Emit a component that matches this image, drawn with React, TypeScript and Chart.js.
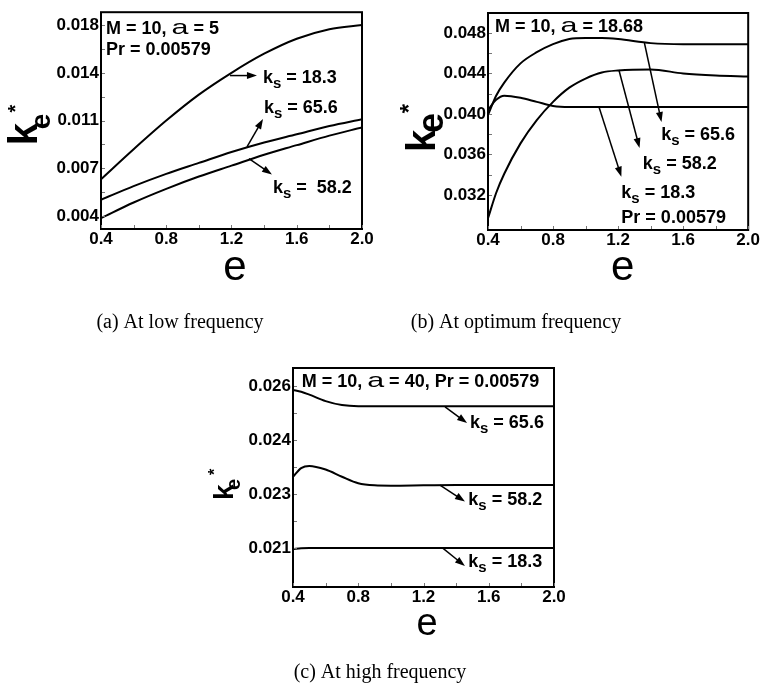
import React, { useEffect, useRef } from "react";
import { Chart, registerables } from "chart.js";

Chart.register(...registerables);

const SANS = "'Liberation Sans', Arial, sans-serif";
const SERIF = "'Liberation Serif', 'Times New Roman', serif";

// ---------- shared x axis ----------
const X_TICKS = [0.4, 0.8, 1.2, 1.6, 2.0];
const X_MINOR = [0.6, 1.0, 1.4, 1.8];

// ---------- (a) low frequency ----------
const E_A = [0.4, 0.6, 0.8, 1.0, 1.2, 1.4, 1.6, 1.8, 2.0];
const A_KS_18_3 = [0.0067, 0.0089, 0.0110, 0.0129, 0.0145, 0.0159, 0.0170, 0.0177, 0.0180];
const A_KS_65_6 = [0.0052, 0.0062, 0.0071, 0.0079, 0.0087, 0.0094, 0.0100, 0.0106, 0.0111];
const A_KS_58_2 = [0.00385, 0.0050, 0.0060, 0.0069, 0.0077, 0.0085, 0.0092, 0.0099, 0.0105];
const A_Y_TICKS = [0.004, 0.0075, 0.011, 0.0145, 0.018];
const A_Y_LABELS = ["0.004", "0.007", "0.011", "0.014", "0.018"];

// ---------- (b) optimum frequency ----------
const E_B = [0.4, 0.45, 0.5, 0.6, 0.7, 0.8, 0.9, 1.0, 1.1, 1.2, 1.4, 1.6, 1.8, 2.0];
const B_KS_65_6 = [0.0399, 0.0418, 0.0431, 0.0450, 0.0461, 0.0469, 0.0474, 0.0475, 0.0475, 0.0474, 0.0470, 0.0469, 0.0469, 0.0469];
const B_KS_58_2 = [0.0297, 0.0322, 0.0341, 0.0371, 0.0394, 0.0412, 0.0426, 0.0435, 0.0441, 0.0443, 0.0444, 0.0440, 0.0438, 0.0437];
const B_KS_18_3 = [0.0404, 0.0414, 0.0418, 0.0416, 0.0412, 0.0408, 0.0407, 0.0407, 0.0407, 0.0407, 0.0407, 0.0407, 0.0407, 0.0407];
const B_Y_TICKS = [0.032, 0.036, 0.040, 0.044, 0.048];
const B_Y_LABELS = ["0.032", "0.036", "0.040", "0.044", "0.048"];

// ---------- (c) high frequency ----------
const E_C = [0.4, 0.45, 0.5, 0.6, 0.7, 0.8, 0.9, 1.0, 1.2, 1.4, 1.6, 1.8, 2.0];
const C_KS_65_6 = [0.02589, 0.02584, 0.02576, 0.02558, 0.02547, 0.02544, 0.02544, 0.02544, 0.02544, 0.02544, 0.02544, 0.02544, 0.02544];
const C_KS_58_2 = [0.02348, 0.02372, 0.02378, 0.02368, 0.02348, 0.02330, 0.02324, 0.02323, 0.02324, 0.02325, 0.02325, 0.02325, 0.02325];
const C_KS_18_3 = [0.02147, 0.02149, 0.0215, 0.0215, 0.0215, 0.0215, 0.0215, 0.0215, 0.0215, 0.0215, 0.0215, 0.0215, 0.0215];
const C_Y_TICKS = [0.0215, 0.023, 0.0245, 0.026];
const C_Y_LABELS = ["0.021", "0.023", "0.024", "0.026"];

const W = 760;
const H = 689;
const YW = 50;
const XH = 25;

type Part = { t: string; size: number; bold?: boolean; dy?: number; sx?: number };

const ks = (rest: string): Part[] => [
  { t: "k", size: 18 },
  { t: "s", size: 15, dy: 5 },
  { t: rest, size: 18 },
];
const alpha: Part = { t: "a", size: 21, bold: false, sx: 1.45 };

interface Panel {
  series: { e: number[]; v: number[] }[];
  yMin: number;
  yMax: number;
  yTicks: number[];
  yLabels: string[];
  area: { left: number; top: number; right: number; bottom: number };
  arrows: number[][];
  texts: { e: number; v: number; parts: Part[] }[];
  yTitle: { dx: number; dy: number; k: number; e: number; ex: number; ey: number; s: number; sx: number; sy: number };
  xTitle: { dx: number; dy: number; size: number };
  caption: { t: string; x: number; y: number };
}

const PANELS: Panel[] = [
  {
    series: [
      { e: E_A, v: A_KS_18_3 },
      { e: E_A, v: A_KS_65_6 },
      { e: E_A, v: A_KS_58_2 },
    ],
    yMin: 0.003057,
    yMax: 0.018943,
    yTicks: A_Y_TICKS,
    yLabels: A_Y_LABELS,
    area: { left: 101, top: 10, right: 362, bottom: 229 },
    arrows: [
      [1.191, 0.0143, 1.356, 0.0143],
      [1.295, 0.00908, 1.393, 0.01111],
      [1.307, 0.00821, 1.448, 0.00705],
    ],
    texts: [
      { e: 0.431, v: 0.01735, parts: [{ t: "M = 10, ", size: 18 }, alpha, { t: " = 5", size: 18 }] },
      { e: 0.431, v: 0.01582, parts: [{ t: "Pr = 0.00579", size: 18 }] },
      { e: 1.393, v: 0.01379, parts: ks(" = 18.3") },
      { e: 1.399, v: 0.01154, parts: ks(" = 65.6") },
      { e: 1.454, v: 0.00567, parts: ks(" =  58.2") },
    ],
    yTitle: { dx: -64, dy: 133, k: 40, e: 28, ex: 16, ey: 13, s: 20, sx: 36.5, sy: -15.5 },
    xTitle: { dx: 3.5, dy: 51, size: 42 },
    caption: { t: "(a) At low frequency", x: 180, y: 328 },
  },
  {
    series: [
      { e: E_B, v: B_KS_65_6 },
      { e: E_B, v: B_KS_58_2 },
      { e: E_B, v: B_KS_18_3 },
    ],
    yMin: 0.028543,
    yMax: 0.049975,
    yTicks: B_Y_TICKS,
    yLabels: B_Y_LABELS,
    area: { left: 488, top: 13, right: 749, bottom: 230 },
    arrows: [
      [1.362, 0.04701, 1.467, 0.03921],
      [1.205, 0.04435, 1.332, 0.03664],
      [1.082, 0.04072, 1.22, 0.03381],
    ],
    texts: [
      { e: 0.443, v: 0.04813, parts: [{ t: "M = 10, ", size: 18 }, alpha, { t: " = 18.68", size: 18 }] },
      { e: 1.465, v: 0.03743, parts: ks(" = 65.6") },
      { e: 1.352, v: 0.03454, parts: ks(" = 58.2") },
      { e: 1.22, v: 0.0317, parts: ks(" = 18.3") },
      { e: 1.22, v: 0.02923, parts: [{ t: "Pr = 0.00579", size: 18 }] },
    ],
    yTitle: { dx: -53, dy: 139, k: 40, e: 36, ex: 19, ey: 8, s: 24, sx: 43.5, sy: -17.7 },
    xTitle: { dx: 4.5, dy: 50, size: 42 },
    caption: { t: "(b) At optimum frequency", x: 516, y: 328 },
  },
  {
    series: [
      { e: E_C, v: C_KS_65_6 },
      { e: E_C, v: C_KS_58_2 },
      { e: E_C, v: C_KS_18_3 },
    ],
    yMin: 0.020417,
    yMax: 0.0265,
    yTicks: C_Y_TICKS,
    yLabels: C_Y_LABELS,
    area: { left: 293, top: 368, right: 554, bottom: 587 },
    arrows: [
      [1.332, 0.02542, 1.467, 0.02497],
      [1.301, 0.02325, 1.454, 0.02279],
      [1.32, 0.02149, 1.454, 0.021],
    ],
    texts: [
      {
        e: 0.453,
        v: 0.02598,
        parts: [{ t: "M = 10, ", size: 18 }, alpha, { t: " = 40, Pr = 0.00579", size: 18 }],
      },
      { e: 1.485, v: 0.02483, parts: ks(" = 65.6") },
      { e: 1.475, v: 0.0227, parts: ks(" = 58.2") },
      { e: 1.475, v: 0.02097, parts: ks(" = 18.3") },
    ],
    yTitle: { dx: -60, dy: 132, k: 28, e: 20, ex: 10, ey: 7, s: 16, sx: 28, sy: -12.8 },
    xTitle: { dx: 3.5, dy: 48, size: 38 },
    caption: { t: "(c) At high frequency", x: 380, y: 678 },
  },
];

function drawParts(ctx: CanvasRenderingContext2D, x: number, y: number, parts: Part[]) {
  let cx = x;
  for (const p of parts) {
    ctx.font = `${p.bold === false ? "normal" : "bold"} ${p.size}px ${SANS}`;
    const sx = p.sx || 1;
    const w = ctx.measureText(p.t).width * sx;
    ctx.save();
    ctx.translate(cx, y + (p.dy || 0));
    ctx.scale(sx, 1);
    ctx.fillText(p.t, 0, 0);
    ctx.restore();
    cx += w;
  }
}

function drawArrow(ctx: CanvasRenderingContext2D, x1: number, y1: number, x2: number, y2: number) {
  const ang = Math.atan2(y2 - y1, x2 - x1);
  const L = 10;
  const Wd = 3.5;
  const c = Math.cos(ang);
  const s = Math.sin(ang);
  ctx.beginPath();
  ctx.moveTo(x1, y1);
  ctx.lineTo(x2 - L * 0.8 * c, y2 - L * 0.8 * s);
  ctx.lineWidth = 1.5;
  ctx.stroke();
  ctx.beginPath();
  ctx.moveTo(x2, y2);
  ctx.lineTo(x2 - L * c + Wd * s, y2 - L * s - Wd * c);
  ctx.lineTo(x2 - L * c - Wd * s, y2 - L * s + Wd * c);
  ctx.closePath();
  ctx.fill();
}

function makePlugin(p: Panel) {
  return {
    id: "deco",
    afterDatasetsDraw(chart: any) {
      const ctx: CanvasRenderingContext2D = chart.ctx;
      const ca = chart.chartArea;
      const xs = chart.scales.x;
      const ys = chart.scales.y;
      const X = (v: number) => xs.getPixelForValue(v);
      const Y = (v: number) => ys.getPixelForValue(v);
      ctx.save();
      ctx.fillStyle = "#000";
      ctx.strokeStyle = "#000";
      // frame
      ctx.lineWidth = 2;
      ctx.strokeRect(ca.left, ca.top, ca.right - ca.left, ca.bottom - ca.top);
      // inward ticks
      ctx.lineWidth = 1;
      ctx.strokeStyle = "#777";
      for (const v of [...X_TICKS, ...X_MINOR]) {
        const x = Math.round(X(v)) + 0.5;
        ctx.beginPath();
        ctx.moveTo(x, ca.bottom - 1);
        ctx.lineTo(x, ca.bottom - 4);
        ctx.stroke();
      }
      const yt = p.yTicks;
      const yMinor: number[] = [];
      for (let i = 0; i < yt.length - 1; i++) yMinor.push((yt[i] + yt[i + 1]) / 2);
      for (const v of [...yt, ...yMinor]) {
        const y = Math.round(Y(v)) + 0.5;
        ctx.beginPath();
        ctx.moveTo(ca.left + 1, y);
        ctx.lineTo(ca.left + 4, y);
        ctx.stroke();
      }
      ctx.strokeStyle = "#000";
      // arrows
      for (const a of p.arrows) drawArrow(ctx, X(a[0]), Y(a[1]), X(a[2]), Y(a[3]));
      // texts
      ctx.textBaseline = "alphabetic";
      ctx.textAlign = "left";
      for (const t of p.texts) drawParts(ctx, X(t.e), Y(t.v), t.parts);
      // y title
      const yt2 = p.yTitle;
      ctx.save();
      ctx.translate(ca.left + yt2.dx, ca.top + yt2.dy);
      ctx.rotate(-Math.PI / 2);
      ctx.font = `bold ${yt2.k}px ${SANS}`;
      ctx.fillText("k", 0, 0);
      ctx.font = `bold ${yt2.e}px ${SANS}`;
      ctx.fillText("e", yt2.ex, yt2.ey);
      ctx.textAlign = "center";
      ctx.font = `bold ${yt2.s}px ${SANS}`;
      ctx.fillText("*", yt2.sx, yt2.sy);
      ctx.restore();
      // x title
      ctx.textAlign = "center";
      ctx.font = `normal ${p.xTitle.size}px ${SANS}`;
      ctx.fillText("e", (ca.left + ca.right) / 2 + p.xTitle.dx, ca.bottom + p.xTitle.dy);
      // caption
      ctx.textAlign = "center";
      ctx.font = `normal 20px ${SERIF}`;
      ctx.fillText(p.caption.t, p.caption.x, p.caption.y);
      ctx.restore();
    },
  };
}

function buildConfig(p: Panel): any {
  const tickFont = { family: SANS, size: 17, weight: "bold" as const };
  return {
    type: "line",
    data: {
      datasets: p.series.map((s) => ({
        data: s.e.map((e, j) => ({ x: e, y: s.v[j] })),
        borderColor: "#000",
        borderWidth: 2,
        pointRadius: 0,
        fill: false,
        cubicInterpolationMode: "monotone",
      })),
    },
    options: {
      responsive: false,
      animation: false,
      devicePixelRatio: 1,
      events: [],
      layout: {
        padding: {
          left: p.area.left - YW,
          top: p.area.top,
          right: W - p.area.right,
          bottom: H - p.area.bottom - XH,
        },
      },
      plugins: {
        legend: { display: false },
        tooltip: { enabled: false },
        title: { display: false },
      },
      scales: {
        x: {
          type: "linear",
          min: 0.4,
          max: 2.0,
          afterFit: (s: any) => {
            s.height = XH;
          },
          afterBuildTicks: (s: any) => {
            s.ticks = X_TICKS.map((v) => ({ value: v }));
          },
          grid: { display: false, drawTicks: false },
          border: { display: false },
          ticks: {
            font: tickFont,
            color: "#000",
            padding: 0,
            maxRotation: 0,
            autoSkip: false,
            callback: (v: any) => Number(v).toFixed(1),
          },
        },
        y: {
          type: "linear",
          min: p.yMin,
          max: p.yMax,
          afterFit: (s: any) => {
            s.width = YW;
          },
          afterBuildTicks: (s: any) => {
            s.ticks = p.yTicks.map((v) => ({ value: v }));
          },
          grid: { display: false, drawTicks: false },
          border: { display: false },
          ticks: {
            font: tickFont,
            color: "#000",
            padding: 2,
            autoSkip: false,
            callback: (_v: any, i: number) => p.yLabels[i],
          },
        },
      },
    },
    plugins: [makePlugin(p)],
  };
}

export default function App() {
  const r0 = useRef<HTMLCanvasElement>(null);
  const r1 = useRef<HTMLCanvasElement>(null);
  const r2 = useRef<HTMLCanvasElement>(null);
  const refs = [r0, r1, r2];
  useEffect(() => {
    const charts = PANELS.map((p, i) => new Chart(refs[i].current as HTMLCanvasElement, buildConfig(p)));
    return () => charts.forEach((c) => c.destroy());
  }, []);
  return (
    <div style={{ position: "absolute", left: 0, top: 0, width: W, height: H, background: "#fff", overflow: "hidden" }}>
      {PANELS.map((_p, i) => (
        <canvas
          key={i}
          ref={refs[i]}
          width={W}
          height={H}
          style={{ position: "absolute", left: 0, top: 0, width: W, height: H }}
        />
      ))}
    </div>
  );
}
